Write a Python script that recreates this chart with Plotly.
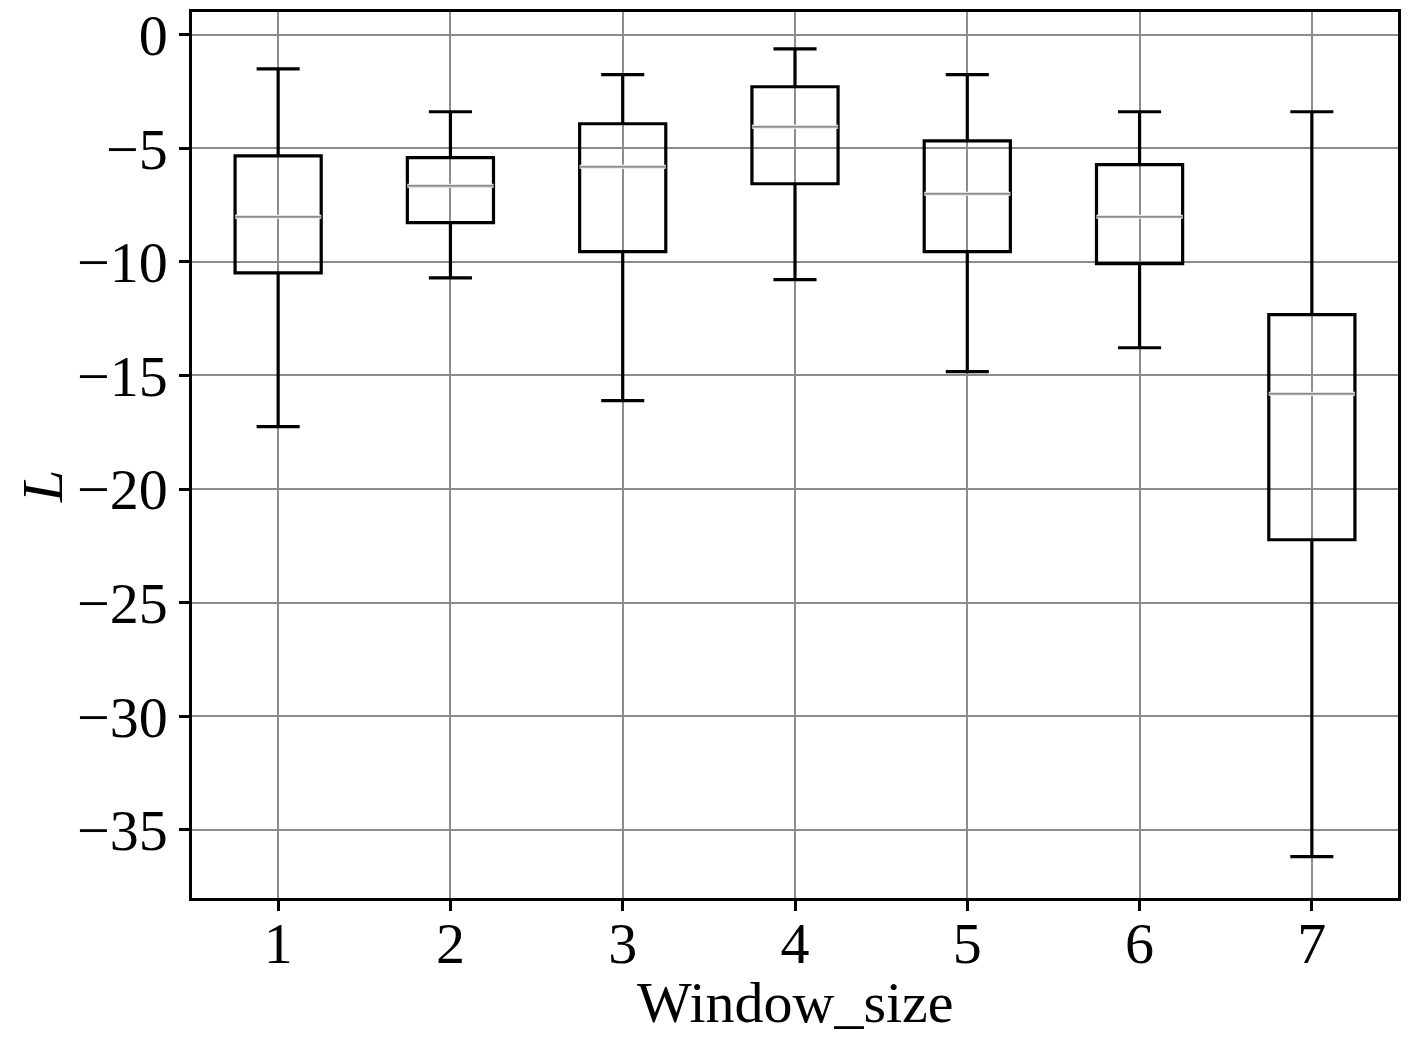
import plotly.graph_objects as go

window_size = [1, 2, 3, 4, 5, 6, 7]
upper_whisker = [-1.50, -3.39, -1.76, -0.62, -1.76, -3.39, -3.39]
q3 = [-5.33, -5.41, -3.92, -2.29, -4.67, -5.72, -12.32]
median = [-8.01, -6.65, -5.81, -4.05, -7.00, -8.01, -15.80]
q1 = [-10.48, -8.27, -9.55, -6.56, -9.55, -10.08, -22.23]
lower_whisker = [-17.25, -10.70, -16.11, -10.78, -14.83, -13.78, -36.18]

y_ticks = [0, -5, -10, -15, -20, -25, -30, -35]
y_tick_labels = ["0", "\u22125", "\u221210", "\u221215", "\u221220", "\u221225", "\u221230", "\u221235"]

BOX_W = 0.5
FONT = "Liberation Serif, Times New Roman, serif"
FS = 58

fig = go.Figure()
fig.add_trace(go.Box(
    x=window_size, q1=q1, median=median, q3=q3,
    lowerfence=lower_whisker, upperfence=upper_whisker,
    width=BOX_W, whiskerwidth=0.5,
    line=dict(color="black", width=3.2),
    fillcolor="rgba(0,0,0,0)",
    boxpoints=False, showlegend=False, hoverinfo="skip",
))

# median lines in grey, as in the reference
mx, my = [], []
for xi, m in zip(window_size, median):
    mx += [xi - BOX_W / 2, xi + BOX_W / 2, None]
    my += [m, m, None]
fig.add_trace(go.Scatter(x=mx, y=my, mode="lines",
                         line=dict(color="white", width=4),
                         showlegend=False, hoverinfo="skip"))
fig.add_trace(go.Scatter(x=mx, y=my, mode="lines",
                         line=dict(color="#8c8c8c", width=2),
                         showlegend=False, hoverinfo="skip"))

axis_common = dict(
    showline=True, linecolor="black", linewidth=2.5, mirror=True,
    ticks="outside", ticklen=10, tickwidth=2.5, tickcolor="black",
    showgrid=True, gridcolor="#8c8c8c", gridwidth=2,
    zeroline=False, automargin=False, ticklabeloverflow="allow",
    tickfont=dict(family=FONT, size=FS, color="black"),
)

fig.update_layout(
    width=1417, height=1041,
    margin=dict(l=192, r=19, t=12, b=143),
    paper_bgcolor="white", plot_bgcolor="white",
    font=dict(family=FONT, color="black"),
    xaxis=dict(
        range=[0.5, 7.5], tickmode="array", tickvals=window_size,
        ticktext=[str(v) for v in window_size],
        ticklabelstandoff=-17,
        **axis_common,
    ),
    yaxis=dict(
        range=[-38.0, 1.0], tickmode="array", tickvals=y_ticks,
        ticktext=y_tick_labels,
        **axis_common,
    ),
    annotations=[
        dict(
            text="<i>L</i>", xref="paper", yref="paper",
            x=-0.1244, y=0.465, xanchor="center", yanchor="middle",
            textangle=-90, showarrow=False,
            font=dict(family=FONT, size=FS, color="black"),
        ),
        dict(
            text="Window_size", xref="paper", yref="paper",
            x=0.5, y=0, xanchor="center", yanchor="middle", yshift=-104,
            showarrow=False,
            font=dict(family=FONT, size=FS, color="black"),
        ),
    ],
)

fig.write_html(
    "out.html",
    config={"displayModeBar": False},
    post_script="document.body.style.margin='0';document.body.style.overflow='hidden';",
)
